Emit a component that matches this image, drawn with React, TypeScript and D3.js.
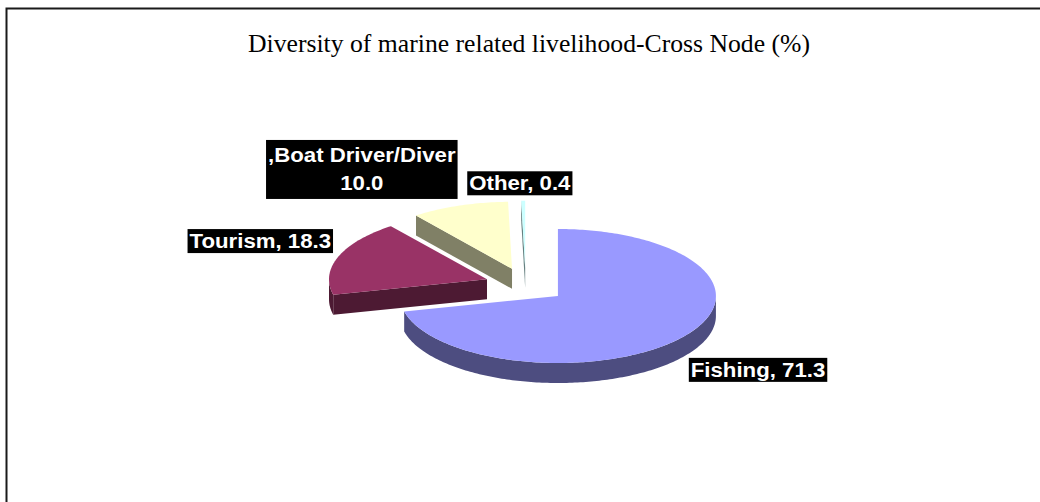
import React from "react";
import * as d3 from "d3";

const categories = ["Fishing", "Tourism", "Boat Driver/Diver", "Other"];
const values = [71.3, 18.3, 10.0, 0.4];
const labelLines = [["Fishing, 71.3"], ["Tourism, 18.3"], [",Boat Driver/Diver", "10.0"], ["Other, 0.4"]];
const title = "Diversity of marine related livelihood-Cross Node (%)";

const topColors = ["#9999FF", "#993366", "#FFFFCC", "#CCFFFF"];
const sideColors = ["#4D4D80", "#4D1A33", "#808066", "#668080"];

const W = 1040, H = 502;
const cx = 525.7, cy = 285.2, rx = 158, ry = 67, depth = 20, explode = 0.26;
const labelFactor = 1.1;
const labelNudge = [[9.5, 0.7], [5.5, -9.5], [-60.5, -2], [-2.5, 1.2]];
const fontSize = 20, stretch = 1.11;

function measure(t: string): number {
  const c = document.createElement("canvas").getContext("2d");
  if (!c) return t.length * 10;
  c.font = `bold ${fontSize}px 'Liberation Sans', Arial, sans-serif`;
  return c.measureText(t).width * stretch;
}

export default function App() {
  const pie = d3.pie<number>().sort(null).value((d) => d)(values);
  const px = (ox: number, a: number, r = 1) => ox + rx * r * Math.sin(a);
  const py = (oy: number, a: number, r = 1) => oy - ry * r * Math.cos(a);

  const slices = pie.map((p, i) => {
    const m = (p.startAngle + p.endAngle) / 2;
    const tx = cx + explode * rx * Math.sin(m);
    const ty = cy - explode * ry * Math.cos(m);
    return { p, i, m, tx, ty };
  });

  const order = [...slices].sort((a, b) => -Math.cos(a.m) - -Math.cos(b.m));

  const arcPts = (ox: number, oy: number, a0: number, a1: number, dy = 0) => {
    const n = Math.max(2, Math.ceil(Math.abs(a1 - a0) / (Math.PI / 180)));
    return d3.range(n + 1).map((k) => {
      const a = a0 + ((a1 - a0) * k) / n;
      return [px(ox, a), py(oy, a) + dy] as [number, number];
    });
  };
  const line = d3.line();

  return (
    <svg width={W} height={H} style={{ position: "absolute", left: 0, top: 0, background: "#fff" }}>
      <path d={`M6.5,${H} V8.5 H${W}`} fill="none" stroke="#1a1a1a" strokeWidth={2} />
      <text x={529} y={52} textAnchor="middle" fontFamily="'Liberation Serif', 'Times New Roman', serif" fontSize={26}
        textLength={562} lengthAdjust="spacingAndGlyphs" fill="#000">{title}</text>
      {order.map(({ p, i, tx, ty }) => {
        const a0 = p.startAngle, a1 = p.endAngle;
        const parts: JSX.Element[] = [];
        if (Math.cos(a0 - Math.PI / 2) < 0) {
          const x = px(tx, a0), y = py(ty, a0);
          parts.push(<path key="s" d={line([[tx, ty], [x, y], [x, y + depth], [tx, ty + depth]])! + "Z"} fill={sideColors[i]} />);
        }
        if (Math.cos(a1 + Math.PI / 2) < 0) {
          const x = px(tx, a1), y = py(ty, a1);
          parts.push(<path key="e" d={line([[tx, ty], [x, y], [x, y + depth], [tx, ty + depth]])! + "Z"} fill={sideColors[i]} />);
        }
        const s = Math.max(a0, Math.PI / 2), e = Math.min(a1, (3 * Math.PI) / 2);
        if (e > s) {
          const top = arcPts(tx, ty, s, e);
          const bot = arcPts(tx, ty, e, s, depth);
          parts.push(<path key="r" d={line([...top, ...bot])! + "Z"} fill={sideColors[i]} />);
        }
        const face = [[tx, ty] as [number, number], ...arcPts(tx, ty, a0, a1)];
        parts.push(<path key="t" d={line(face)! + "Z"} fill={topColors[i]} />);
        return <g key={categories[i]}>{parts}</g>;
      })}
      {slices.map(({ i, m, tx, ty }) => {
        const lines = labelLines[i];
        const widths = lines.map(measure);
        const w = Math.max(...widths) + 4;
        const h = 24 + (lines.length - 1) * 35;
        const sm = Math.sin(m), cm = -Math.cos(m);
        const ax = tx + labelFactor * rx * sm;
        const ay = ty + labelFactor * ry * cm + (cm > 0 ? depth : 0);
        const lx = ax + (w / 2) * sm + labelNudge[i][0];
        const ly = ay + (h / 2) * cm + labelNudge[i][1];
        return (
          <g key={"l" + categories[i]}>
            <rect x={lx - w / 2} y={ly - h / 2} width={w} height={h} fill="#000" />
            {lines.map((t, k) => (
              <text key={k} x={lx} y={ly + 7 + (k - (lines.length - 1) / 2) * 28} textAnchor="middle"
                fontFamily="'Liberation Sans', Arial, sans-serif" fontWeight="bold" fontSize={fontSize}
                textLength={widths[k]} lengthAdjust="spacingAndGlyphs" fill="#fff">{t}</text>
            ))}
          </g>
        );
      })}
    </svg>
  );
}
